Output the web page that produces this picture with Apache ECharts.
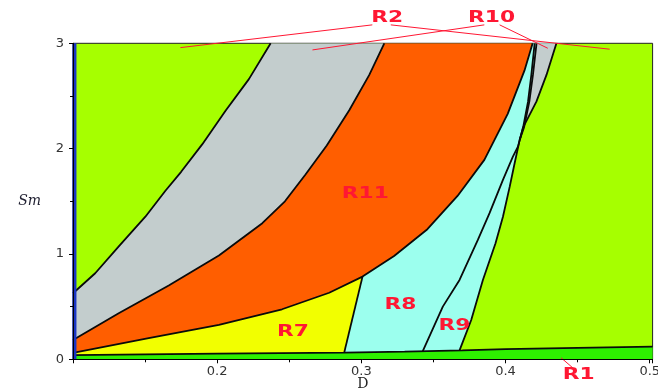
<!DOCTYPE html>
<html><head><meta charset="utf-8">
<script src="https://cdn.jsdelivr.net/npm/echarts@6/dist/echarts.min.js"></script>
<style>html,body{margin:0;padding:0;background:#fff}#c{width:658px;height:392px}</style>
</head><body><div id="c"></div>
<script>
// ---- tick labels ----
const xTickValues = [0.2, 0.3, 0.4, 0.5];
const xTickLabels = ['0.2', '0.3', '0.4', '0.5'];
const yTickValues = [0, 1, 2, 3];
const yTickLabels = ['0', '1', '2', '3'];

// ---- boundary curves, points are [D, Sm] ----
const blueLine = [[0.101, 0], [0.101, 3]];
const greenGray = [[0.1,0.627],[0.1154,0.817],[0.1316,1.069],[0.1502,1.354],[0.1641,1.600],[0.1750,1.780],[0.1896,2.040],[0.2058,2.360],[0.2220,2.660],[0.2371,3.0]];
const grayOrange = [[0.1,0.183],[0.1317,0.437],[0.1664,0.700],[0.2012,0.985],[0.2313,1.292],[0.2470,1.500],[0.2610,1.750],[0.2760,2.030],[0.2916,2.364],[0.3055,2.700],[0.3159,3.0]];
const orangeLower = [[0.1,0.06],[0.1525,0.200],[0.2012,0.326],[0.2450,0.475],[0.2777,0.632],[0.3008,0.785],[0.3227,0.981],[0.3458,1.235],[0.3667,1.551],[0.3853,1.893],[0.4015,2.330],[0.4131,2.740],[0.4188,3.0]];
const junctionIndex = 5;
const yellowCyan = [[0.2872,0],[0.2881,0.063],[0.3008,0.785]];
const r8r9 = [[0.3426,0.077],[0.3565,0.500],[0.3681,0.753],[0.3808,1.133],[0.3889,1.387],[0.3982,1.703],[0.4051,1.924],[0.4086,2.019],[0.4121,2.194],[0.4156,2.446],[0.4179,2.700],[0.4202,3.0]];
const r9Green = [[0.3672,0],[0.3681,0.085],[0.3762,0.373],[0.3843,0.753],[0.3930,1.100],[0.3982,1.354],[0.4029,1.639],[0.4063,1.861],[0.4098,2.083],[0.4121,2.2],[0.4214,2.446],[0.4284,2.700],[0.4353,3.0]];
const r10TipIndex = 8;
const r10Left = [[0.4098,2.083],[0.4128,2.2],[0.4165,2.446],[0.4190,2.700],[0.4215,3.0]];
const stripTop = [[0.1,0.04],[0.2,0.053],[0.2881,0.063],[0.33,0.073],[0.37,0.085],[0.4,0.097],[0.45,0.108],[0.502,0.12]];

// ---- annotations ----
const regionNames = ['R2', 'R10', 'R11', 'R7', 'R8', 'R9', 'R1'];
const regionAnchors = [[0.318,3.236],[0.3903,3.241],[0.3027,1.570],[0.2526,0.255],[0.3271,0.516],[0.3646,0.316],[0.4508,-0.148]];
const leaderLines = [
  [[0.3076,3.175],[0.1745,2.959]],
  [[0.3204,3.175],[0.4722,2.944]],
  [[0.3853,3.175],[0.2661,2.937]],
  [[0.3959,3.175],[0.4293,2.953]],
  [[0.4478,-0.095],[0.4385,0.015]]
];

// ---- build region polygons from the boundaries ----
const rev = a => a.slice().reverse();
const grayPoly = greenGray.concat(rev(grayOrange));
const orangePoly = grayOrange.concat(rev(orangeLower));
const yellowPoly = [[0.1,0]].concat(orangeLower.slice(0, junctionIndex + 1)).concat(rev(yellowCyan));
const cyanPoly = yellowCyan.concat(orangeLower.slice(junctionIndex + 1)).concat(rev(r9Green));
const r10Poly = r10Left.concat(rev(r9Green.slice(r10TipIndex)));
const stripPoly = [[0.1,0],[0.502,0]].concat(rev(stripTop));

const COLORS = {
  lime: '#a6ff00', gray: '#c3cdcd', orange: '#ff5e00', yellow: '#f2ff00',
  cyan: '#9cffee', strip: '#2ef000', blue: '#1a35c4', edge: '#0a0a0a', red: '#ff1733'
};

function polySeries(points, color) {
  return {
    type: 'custom', coordinateSystem: 'cartesian2d', silent: true, z: 1, clip: true,
    data: [points[0]],
    renderItem: (params, api) => ({
      type: 'polygon',
      shape: { points: points.map(p => api.coord(p)) },
      style: { fill: color }
    })
  };
}
function lineSeries(points, color, width, z, clip) {
  return {
    type: 'line', data: points, showSymbol: false, symbol: 'none', silent: true,
    z: z, clip: clip, animation: false,
    lineStyle: { color: color, width: width }
  };
}

const series = [
  polySeries(grayPoly, COLORS.gray),
  polySeries(orangePoly, COLORS.orange),
  polySeries(yellowPoly, COLORS.yellow),
  polySeries(cyanPoly, COLORS.cyan),
  polySeries(r10Poly, COLORS.gray),
  polySeries(stripPoly, COLORS.strip)
];
[greenGray, grayOrange, orangeLower, yellowCyan.slice(1), r8r9, r9Green.slice(1), r10Left, stripTop]
  .forEach(b => series.push(lineSeries(b, COLORS.edge, 1.8, 3, true)));
series.push(lineSeries(blueLine, COLORS.blue, 4, 4, true));
leaderLines.forEach(l => series.push(lineSeries(l, COLORS.red, 1, 5, false)));
series.push({
  type: 'custom', coordinateSystem: 'cartesian2d', silent: true, z: 6, clip: false,
  data: regionAnchors.map((a, i) => [a[0], a[1], i]),
  renderItem: (params, api) => {
    const p = api.coord([api.value(0), api.value(1)]);
    return {
      type: 'text', x: p[0], y: p[1], scaleX: 1.45,
      style: {
        text: regionNames[api.value(2)], fill: COLORS.red,
        font: 'bold 15px "DejaVu Sans"', align: 'center', verticalAlign: 'middle'
      }
    };
  }
});

const chart = echarts.init(document.getElementById('c'), null, { renderer: 'canvas' });
chart.setOption({
  animation: false,
  backgroundColor: '#fff',
  grid: { left: 73, right: 5.4, top: 43.3, bottom: 32.7, containLabel: false, outerBoundsMode: 'none',
          show: true, backgroundColor: COLORS.lime, borderColor: '#222', borderWidth: 1 },
  xAxis: [{
    type: 'value', min: 0.1, max: 0.502, interval: 0.1, z: 10,
    name: 'D', nameLocation: 'middle', nameGap: 18, nameMoveOverlap: false,
    nameTextStyle: { fontFamily: 'DejaVu Serif', fontSize: 14, color: '#222' },
    axisLine: { lineStyle: { color: '#000', width: 1 } },
    axisTick: { show: true, length: 4, lineStyle: { color: '#000' } },
    minorTick: { show: true, splitNumber: 2, length: 3, lineStyle: { color: '#000' } },
    splitLine: { show: false },
    axisLabel: {
      margin: 6, fontFamily: 'DejaVu Sans', fontSize: 13, color: '#333',
      formatter: v => { const i = xTickValues.findIndex(t => Math.abs(t - v) < 1e-6); return i >= 0 ? xTickLabels[i] : ''; }
    }
  }],
  yAxis: [{
    type: 'value', min: 0, max: 3, interval: 1, z: 10,
    name: 'Sm', nameLocation: 'middle', nameRotate: 0, nameGap: 32, nameMoveOverlap: false,
    nameTextStyle: { fontFamily: 'DejaVu Serif', fontStyle: 'italic', fontSize: 14, color: '#223' },
    axisLine: { lineStyle: { color: '#000', width: 1 } },
    axisTick: { show: true, length: 4, lineStyle: { color: '#000' } },
    minorTick: { show: true, splitNumber: 2, length: 3, lineStyle: { color: '#000' } },
    splitLine: { show: false },
    axisLabel: {
      margin: 9, fontFamily: 'DejaVu Sans', fontSize: 13, color: '#333',
      formatter: v => { const i = yTickValues.findIndex(t => Math.abs(t - v) < 1e-6); return i >= 0 ? yTickLabels[i] : ''; }
    }
  }],
  series: series
});
</script>
</body></html>
